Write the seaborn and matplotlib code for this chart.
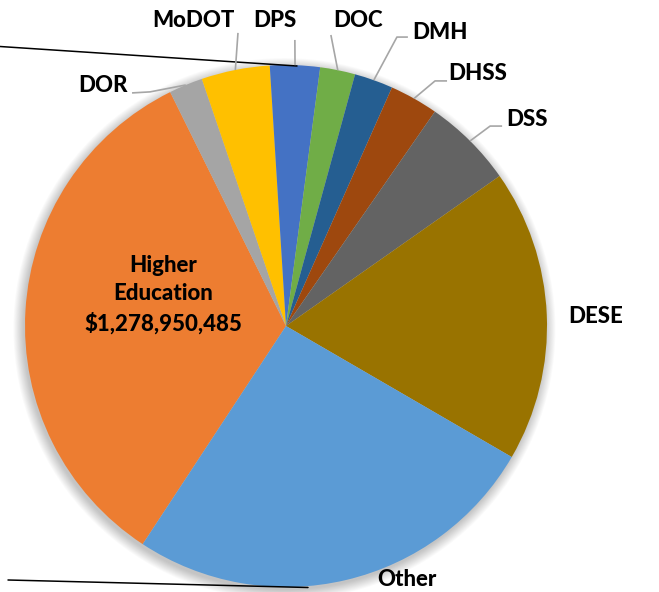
import matplotlib
matplotlib.use("Agg")
import matplotlib.pyplot as plt
from matplotlib.patches import Circle
import seaborn as sns
import numpy as np

# ---- data (millions of dollars) ----
departments = ["Higher\nEducation\n$1,278,950,485", "DOR", "MoDOT", "DPS", "DOC",
               "DMH", "DHSS", "DSS", "DESE", "Other"]
amounts = [1278.95, 80.0, 162.0, 118.0, 83.0, 91.5, 115.0, 214.0, 693.0, 990.0]
colors = ["#ED7D31", "#A5A5A5", "#FFC000", "#4472C4", "#70AD47",
          "#255E91", "#9E480E", "#636363", "#997300", "#5B9BD5"]

# ---- label layout (pie radius = 1, centre = 0,0) ----
label_pos = {
    "DOR": (-0.701, 0.923), "MoDOT": (-0.356, 1.172), "DPS": (-0.042, 1.172),
    "DOC": (0.276, 1.172), "DMH": (0.590, 1.126), "DHSS": (0.736, 0.969),
    "DSS": (0.923, 0.793), "DESE": (1.188, 0.038), "Other": (0.464, -0.973),
}
leader_pts = {
    "DOR": [(-0.521, 0.897), (-0.590, 0.893)],
    "MoDOT": [(-0.184, 1.123)],
    "DPS": [(0.034, 1.096)],
    "DOC": [(0.172, 1.115)],
    "DMH": [(0.425, 1.107), (0.467, 1.107)],
    "DHSS": [(0.571, 0.939), (0.617, 0.939)],
    "DSS": [(0.782, 0.766), (0.828, 0.766)],
}
he_pos = (-0.471, 0.119)

sns.set_theme(style="white")
plt.rcParams["font.family"] = ["Lato", "DejaVu Sans"]

W, H, DPI = 659, 592, 100
fig = plt.figure(figsize=(W / DPI, H / DPI), dpi=DPI)
ax = fig.add_axes([0, 0, 1, 1])

cx_px, cy_px, r_px = 286, 326, 261

# soft shadow
for i in range(12):
    ax.add_patch(Circle((-0.006, -0.012), 1.0 + i * 0.0035, color="black",
                        alpha=0.018, lw=0, zorder=0))

wedges, _ = ax.pie(amounts, colors=colors, startangle=236.7, counterclock=False,
                   radius=1, center=(0, 0),
                   wedgeprops=dict(linewidth=0, zorder=2))

font = dict(fontsize=16, fontweight="black", color="black")
for w, name in zip(wedges, departments):
    if name in label_pos:
        x, y = label_pos[name]
        ax.text(x, y, name, ha="center", va="center", zorder=5, **font)
    if name in leader_pts:
        mid = np.deg2rad((w.theta1 + w.theta2) / 2)
        pts = [(np.cos(mid), np.sin(mid))] + leader_pts[name]
        xs, ys = zip(*pts)
        ax.plot(xs, ys, color="#A6A6A6", lw=1.2, zorder=4, solid_capstyle="butt")

ax.text(he_pos[0], he_pos[1], departments[0], ha="center", va="center",
        linespacing=1.45, zorder=5, **font)

# connector lines towards the (cropped) secondary chart
def px(x, y):
    return ((x - cx_px) / r_px, (cy_px - y) / r_px)

for a, b in [((0, 46.5), (297, 66)), ((8, 580), (308, 587.5))]:
    (x1, y1), (x2, y2) = px(*a), px(*b)
    ax.plot([x1, x2], [y1, y2], color="black", lw=1.1, zorder=3)

ax.set_aspect("auto")
ax.set_xlim((0 - cx_px) / r_px, (W - cx_px) / r_px)
ax.set_ylim((cy_px - H) / r_px, cy_px / r_px)
ax.axis("off")

fig.savefig("out.png", dpi=DPI, facecolor="white")
